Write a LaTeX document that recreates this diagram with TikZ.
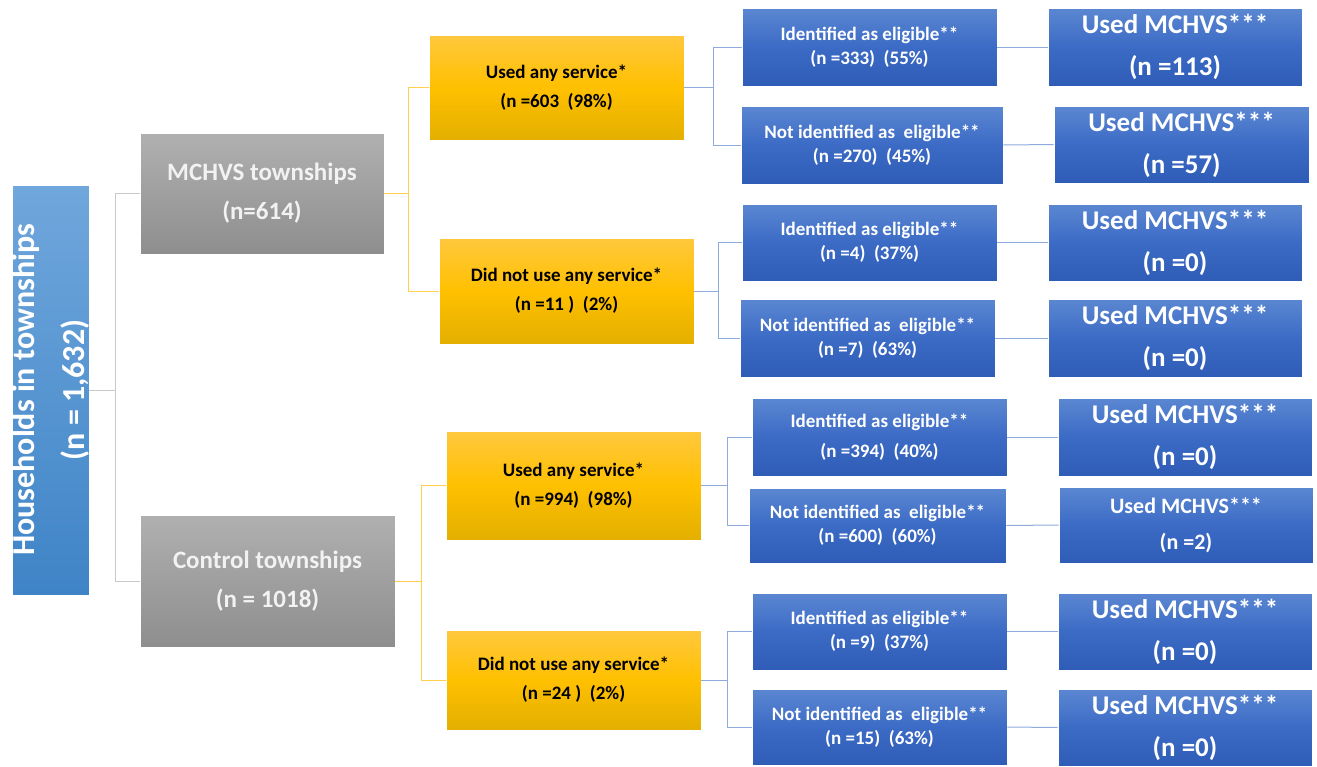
\documentclass[tikz,border=0pt]{standalone}
\usepackage{fontspec}
\setmainfont{Carlito}
\definecolor{rootTop}{HTML}{70A7DC}
\definecolor{rootBot}{HTML}{3F84C7}
\definecolor{grayTop}{HTML}{B0B0B0}
\definecolor{grayBot}{HTML}{8E8E8E}
\definecolor{yelTop}{HTML}{FFC83E}
\definecolor{yelMid}{HTML}{FFC000}
\definecolor{yelBot}{HTML}{E3AF00}
\definecolor{bluTop}{HTML}{5B87D1}
\definecolor{bluMid}{HTML}{3C6BC6}
\definecolor{bluBot}{HTML}{2E5CB6}
\definecolor{lnGray}{HTML}{C9C9C9}
\definecolor{lnYel}{HTML}{FFCF4D}
\definecolor{lnBlue}{HTML}{8FAADC}
\tikzset{
  box/.style={rectangle, inner sep=0pt, align=center, draw=white, line width=0.6pt, font=\bfseries},
  rootbox/.style={box, top color=rootTop, bottom color=rootBot},
  graybox/.style={box, top color=grayTop, bottom color=grayBot, text=white!95!black},
  yelbox/.style={box, top color=yelTop, bottom color=yelBot, middle color=yelMid, text=black},
  blubox/.style={box, top color=bluTop, bottom color=bluBot, middle color=bluMid, text=white},
  lvlthree/.style={blubox, font=\bfseries\fontsize{19}{24}\selectfont},
  lvlfour/.style={blubox, font=\bfseries\fontsize{27}{42}\selectfont},
  lvltwo/.style={yelbox, font=\bfseries\fontsize{19}{29}\selectfont},
  lvlone/.style={graybox, font=\bfseries\fontsize{25}{39}\selectfont},
  cgray/.style={draw=lnGray, line width=1pt},
  cyel/.style={draw=lnYel, line width=1pt},
  cblue/.style={draw=lnBlue, line width=1pt},
}
\begin{document}
\begin{tikzpicture}[x=1pt,y=-1pt]
\useasboundingbox (0,0) rectangle (1317,766);

% root
\node[rootbox, minimum width=77pt, minimum height=410pt] (root) at (50.5,390) {};
\node[rotate=90, align=center, text=white, inner sep=0pt, font=\bfseries\fontsize{32}{50}\selectfont] (roottext) at (root.center) {Households in townships\\(n = 1,632)};

% level 1
\node[lvlone, minimum width=244pt, minimum height=121pt] (mchvs) at (262,193.5) {MCHVS townships\\(n=614)};
\node[lvlone, minimum width=255pt, minimum height=132pt] (control) at (267.5,581) {Control townships\\(n = 1018)};

% level 2
\node[lvltwo, minimum width=255pt, minimum height=105pt] (a1) at (556.5,87.5) {Used any service*\\(n =603\ \ (98\%)};
\node[lvltwo, minimum width=255pt, minimum height=106pt] (a2) at (566.5,291) {Did not use any service*\\(n =11 )\ \ (2\%)};
\node[lvltwo, minimum width=255pt, minimum height=109pt] (b1) at (573.5,485.5) {Used any service*\\(n =994)\ \ (98\%)};
\node[lvltwo, minimum width=255pt, minimum height=100pt] (b2) at (573.5,680) {Did not use any service*\\(n =24 )\ \ (2\%)};

% level 3
\node[lvlthree, minimum width=255pt, minimum height=78pt] (c1) at (869.5,47) {Identified as eligible**\\(n =333)\ \ (55\%)};
\node[lvlthree, minimum width=262pt, minimum height=78pt] (c2) at (872,145) {Not identified as\ \ eligible**\\(n =270)\ \ (45\%)};
\node[lvlthree, minimum width=255pt, minimum height=77pt] (c3) at (869.5,242.5) {Identified as eligible**\\(n =4)\ \ (37\%)};
\node[lvlthree, minimum width=255pt, minimum height=78pt] (c4) at (867.5,338) {Not identified as\ \ eligible**\\(n =7)\ \ (63\%)};
\node[lvlthree, minimum width=255pt, minimum height=78pt, font=\bfseries\fontsize{19}{30}\selectfont] (c5) at (879.5,437) {Identified as eligible**\\(n =394)\ \ (40\%)};
\node[lvlthree, minimum width=257pt, minimum height=75pt] (c6) at (877.5,525.5) {Not identified as\ \ eligible**\\(n =600)\ \ (60\%)};
\node[lvlthree, minimum width=255pt, minimum height=77pt] (c7) at (879.5,631.5) {Identified as eligible**\\(n =9)\ \ (37\%)};
\node[lvlthree, minimum width=255pt, minimum height=76pt] (c8) at (879.5,727) {Not identified as\ \ eligible**\\(n =15)\ \ (63\%)};

% level 4
\node[lvlfour, minimum width=254pt, minimum height=78pt] (d1) at (1175,47) {Used MCHVS***\\(n =113)};
\node[lvlfour, minimum width=255pt, minimum height=77pt] (d2) at (1181.5,144.5) {Used MCHVS***\\(n =57)};
\node[lvlfour, minimum width=254pt, minimum height=77pt] (d3) at (1175,242.5) {Used MCHVS***\\(n =0)};
\node[lvlfour, minimum width=254pt, minimum height=78pt] (d4) at (1175,338) {Used MCHVS***\\(n =0)};
\node[lvlfour, minimum width=254pt, minimum height=78pt] (d5) at (1185,437) {Used MCHVS***\\(n =0)};
\node[lvlfour, minimum width=254pt, minimum height=76pt, font=\bfseries\fontsize{22}{36}\selectfont] (d6) at (1186,525) {Used MCHVS***\\(n =2)};
\node[lvlfour, minimum width=254pt, minimum height=77pt] (d7) at (1185,631.5) {Used MCHVS***\\(n =0)};
\node[lvlfour, minimum width=254pt, minimum height=77pt] (d8) at (1185,727.5) {Used MCHVS***\\(n =0)};

% connectors root -> level 1
\draw[cgray] (root.east) -- ++(26,0) |- (mchvs.west);
\draw[cgray] (root.east) -- ++(26,0) |- (control.west);

% level 1 -> level 2
\draw[cyel] (mchvs.east) -- ++(24,0) |- (a1.west);
\draw[cyel] (mchvs.east) -- ++(24,0) |- (a2.west);
\draw[cyel] (control.east) -- ++(26,0) |- (b1.west);
\draw[cyel] (control.east) -- ++(26,0) |- (b2.west);

% level 2 -> level 3
\draw[cblue] (a1.east) -- ++(29,0) |- (c1.west);
\draw[cblue] (a1.east) -- ++(29,0) |- (c2.west);
\draw[cblue] (a2.east) -- ++(24,0) |- (c3.west);
\draw[cblue] (a2.east) -- ++(24,0) |- (c4.west);
\draw[cblue] (b1.east) -- ++(26,0) |- (c5.west);
\draw[cblue] (b1.east) -- ++(26,0) |- (c6.west);
\draw[cblue] (b2.east) -- ++(26,0) |- (c7.west);
\draw[cblue] (b2.east) -- ++(26,0) |- (c8.west);

% level 3 -> level 4
\draw[cblue] (c1.east) -- (d1.west);
\draw[cblue] (c2.east) -- (d2.west);
\draw[cblue] (c3.east) -- (d3.west);
\draw[cblue] (c4.east) -- (d4.west);
\draw[cblue] (c5.east) -- (d5.west);
\draw[cblue] (c6.east) -- (d6.west);
\draw[cblue] (c7.east) -- (d7.west);
\draw[cblue] (c8.east) -- (d8.west);
\end{tikzpicture}
\end{document}
